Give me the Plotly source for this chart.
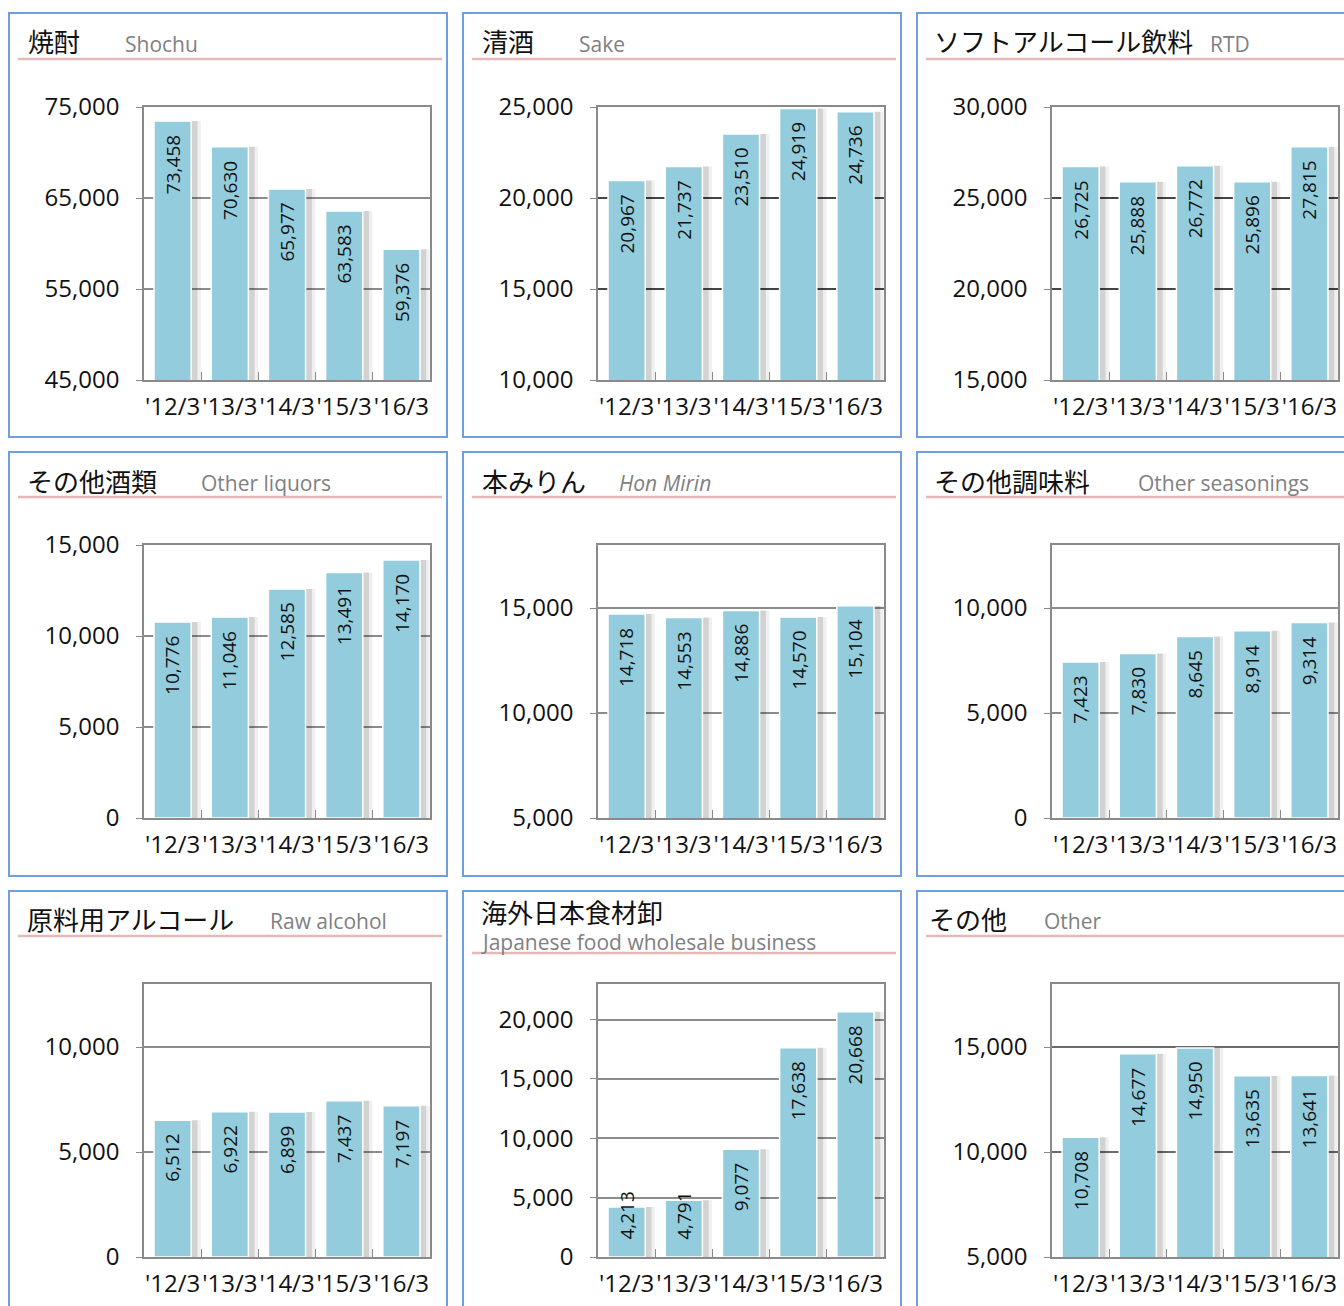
import plotly.graph_objects as go

categories = ["'12/3", "'13/3", "'14/3", "'15/3", "'16/3"]

titles_ja = ["焼酎", "清酒", "ソフトアルコール飲料",
             "その他酒類", "本みりん", "その他調味料",
             "原料用アルコール", "海外日本食材卸", "その他"]
titles_en = ["Shochu", "Sake", "RTD",
             "Other liquors", "Hon Mirin", "Other seasonings",
             "Raw alcohol", "Japanese food wholesale business", "Other"]

shochu = [73458, 70630, 65977, 63583, 59376]
sake = [20967, 21737, 23510, 24919, 24736]
rtd = [26725, 25888, 26772, 25896, 27815]
other_liquors = [10776, 11046, 12585, 13491, 14170]
hon_mirin = [14718, 14553, 14886, 14570, 15104]
other_seasonings = [7423, 7830, 8645, 8914, 9314]
raw_alcohol = [6512, 6922, 6899, 7437, 7197]
jp_food = [4213, 4791, 9077, 17638, 20668]
other = [10708, 14677, 14950, 13635, 13641]

series = [shochu, sake, rtd, other_liquors, hon_mirin, other_seasonings,
          raw_alcohol, jp_food, other]

y_ranges = [(45000, 75000), (10000, 25000), (15000, 30000),
            (0, 15000), (5000, 18000), (0, 13000),
            (0, 13000), (0, 23000), (5000, 18000)]
y_dticks = [10000, 5000, 5000, 5000, 5000, 5000, 5000, 5000, 5000]

# ---- layout constants (screen pixels) ----
W, H = 1344, 1306
OFF = 0
plot_x = [(144, 430), (598, 884), (1052, 1338)]
plot_y = [(107, 380), (545, 818), (984, 1257)]
panel_x = [(9, 447), (463, 901), (917, 1360)]
panel_y = [(13, 437), (452, 876), (891, 1330)]
line_x = [(18, 442), (472, 896), (926, 1352)]
line_y = [59, 497, 936]
ja_x = [[26, 480, 932], [25, 480, 932], [25, 479, 927]]
en_x = [[123, 577, 1208], [199, 617, 1136], [268, 479, 1042]]
ja_y = [41, 480, 918]
en_y = [44, 483, 921]


def fx(px):
    return (px - OFF) / W


def fy(py):
    return 1 - (py - OFF) / H


BAR = "#93CDDD"
BORDER = "#6F9FDC"
PINK = "#E6B8B7"
GRID = ["#8c8c8c", "#454545", "#454545", "#8c8c8c", "#8c8c8c", "#8c8c8c",
        "#8c8c8c", "#8c8c8c", "#6a6a6a"]
NUMFONT = "Open Sans"
JAFONT = "Noto Sans CJK JP"

fig = go.Figure()
shapes = []
annotations = []

LABEL_FS = 19

for i in range(9):
    r, c = divmod(i, 3)
    n = i + 1
    xa = "x" if n == 1 else f"x{n}"
    ya = "y" if n == 1 else f"y{n}"
    vals = series[i]
    # soft shadows
    fig.add_trace(go.Bar(x=categories, y=vals, xaxis=xa, yaxis=ya,
                         width=0.65, offset=-0.325 + 0.17,
                         marker=dict(color="rgba(0,0,0,0.06)", line=dict(width=0)),
                         hoverinfo="skip", showlegend=False))
    fig.add_trace(go.Bar(x=categories, y=vals, xaxis=xa, yaxis=ya,
                         width=0.65, offset=-0.325 + 0.11,
                         marker=dict(color="rgba(0,0,0,0.12)", line=dict(width=0)),
                         hoverinfo="skip", showlegend=False))
    # main bars
    fig.add_trace(go.Bar(x=categories, y=vals, xaxis=xa, yaxis=ya,
                         width=0.65, offset=-0.325,
                         marker=dict(color=BAR, line=dict(color="white", width=1.5)),
                         showlegend=False))
    x0, x1 = plot_x[c]
    y0, y1 = plot_y[r]
    lo, hi = y_ranges[i]
    axis_common = dict(showline=True, linecolor="#8a8a8a", linewidth=1.5, mirror=True,
                       automargin=False, fixedrange=True)
    fig.update_layout(**{
        ("xaxis" if n == 1 else f"xaxis{n}"): dict(
            domain=[fx(x0), fx(x1)], anchor=ya, type="category",
            tickson="boundaries", ticks="inside", ticklen=8, tickcolor="#8a8a8a",
            tickangle=0, ticklabelstandoff=4,
            tickfont=dict(family=NUMFONT, size=24, color="#111111"),
            showgrid=False, **axis_common),
        ("yaxis" if n == 1 else f"yaxis{n}"): dict(
            domain=[fy(y1), fy(y0)], anchor=xa, range=[lo, hi],
            tick0=lo, dtick=y_dticks[i], tickformat=",d",
            ticks="outside", ticklen=6, tickcolor="#8a8a8a", ticklabelstandoff=12,
            tickfont=dict(family=NUMFONT, size=24, color="#111111"),
            showgrid=True, gridcolor=GRID[i], gridwidth=1.5, zeroline=False,
            **axis_common),
    })
    # bar value labels
    span = hi - lo
    ph = y1 - y0
    for cat, v in zip(categories, vals):
        txt = f"{v:,}"
        ndig = sum(ch.isdigit() for ch in txt)
        label_px = (0.572 * ndig + 0.27 * (len(txt) - ndig)) * LABEL_FS
        bar_px = (v - lo) / span * ph
        if bar_px < label_px + 14 + 17:
            annotations.append(dict(x=cat, y=lo, xref=xa, yref=ya, text=txt,
                                    textangle=-90, yanchor="bottom", yshift=15,
                                    showarrow=False,
                                    font=dict(family=NUMFONT, size=LABEL_FS, color="#111111")))
        else:
            annotations.append(dict(x=cat, y=v, xref=xa, yref=ya, text=txt,
                                    textangle=-90, yanchor="top", yshift=-12,
                                    showarrow=False,
                                    font=dict(family=NUMFONT, size=LABEL_FS, color="#111111")))

# panel borders, pink lines, titles
for r in range(3):
    for c in range(3):
        i = r * 3 + c
        px0, px1 = panel_x[c]
        py0, py1 = panel_y[r]
        shapes.append(dict(type="rect", xref="paper", yref="paper",
                           x0=fx(px0), x1=fx(px1), y0=fy(py1), y1=fy(py0),
                           line=dict(color=BORDER, width=2), layer="above"))
        ly = line_y[r] + (17 if i == 7 else 0)
        lx0, lx1 = line_x[c]
        shapes.append(dict(type="line", xref="paper", yref="paper",
                           x0=fx(lx0), x1=fx(lx1), y0=fy(ly), y1=fy(ly),
                           line=dict(color=PINK, width=2.5)))
        if i == 7:
            jy, ey = 911, 942
        else:
            jy, ey = ja_y[r], en_y[r]
        annotations.append(dict(x=fx(ja_x[r][c]), y=fy(jy), xref="paper", yref="paper",
                                text=titles_ja[i], xanchor="left", yanchor="middle",
                                showarrow=False,
                                font=dict(family=JAFONT, size=26, color="#111111")))
        en_text = titles_en[i]
        if i == 4:
            en_text = f"<i>{en_text}</i>"
        annotations.append(dict(x=fx(en_x[r][c]), y=fy(ey), xref="paper", yref="paper",
                                text=en_text, xanchor="left", yanchor="middle",
                                showarrow=False,
                                font=dict(family=NUMFONT, size=21, color="#808080")))

fig.update_layout(
    width=W, height=H, autosize=False,
    margin=dict(l=0, r=0, t=0, b=0, autoexpand=False),
    paper_bgcolor="white", plot_bgcolor="white",
    barmode="overlay", bargap=0.35,
    shapes=shapes, annotations=annotations,
    showlegend=False,
)

fig.write_html(
    "out.html",
    config={"displayModeBar": False},
    post_script="document.body.style.margin='0';document.body.style.overflow='hidden';",
)
